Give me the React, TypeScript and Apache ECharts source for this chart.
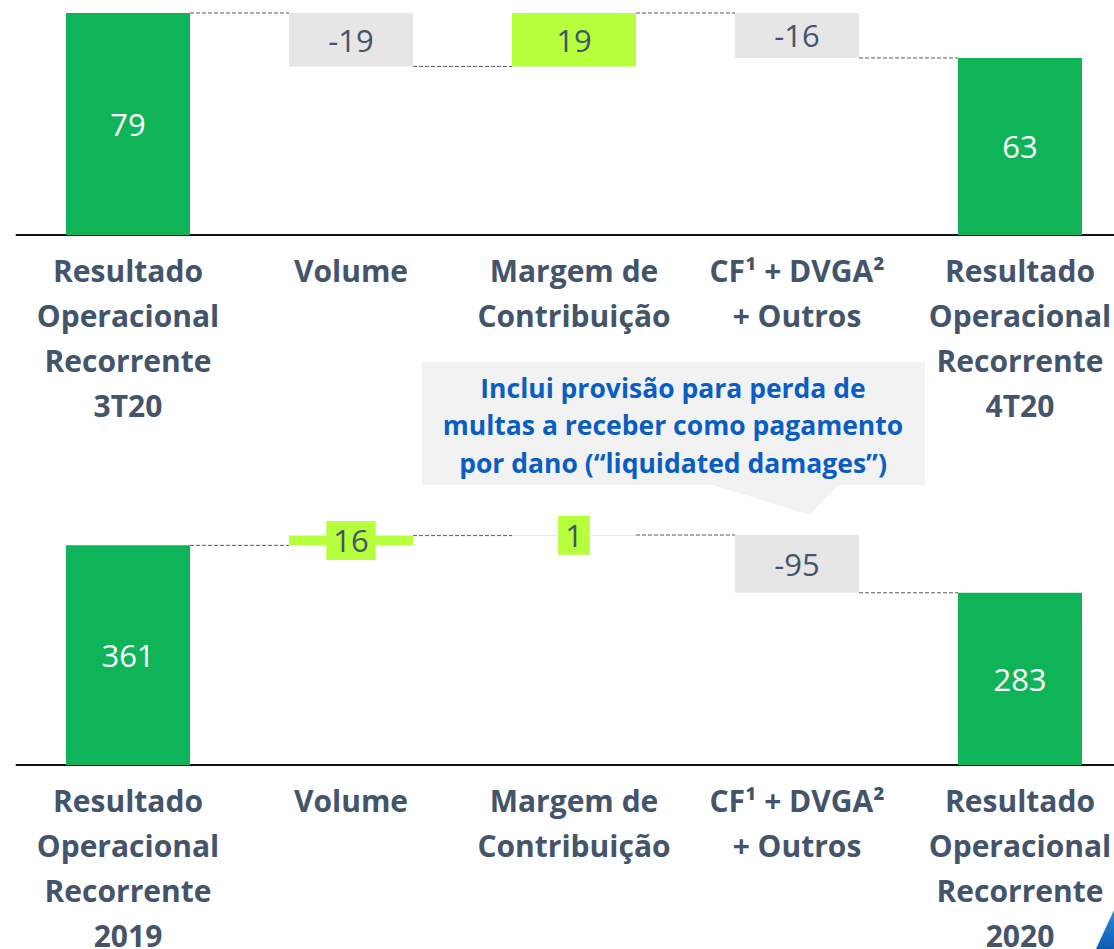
import React, { useEffect, useRef } from 'react';
import * as echarts from 'echarts';

const categoriesTop = [
  'Resultado\nOperacional\nRecorrente\n3T20',
  'Volume',
  'Margem de\nContribuição',
  'CF¹ + DVGA²\n+ Outros',
  'Resultado\nOperacional\nRecorrente\n4T20',
];
const categoriesBottom = [
  'Resultado\nOperacional\nRecorrente\n2019',
  'Volume',
  'Margem de\nContribuição',
  'CF¹ + DVGA²\n+ Outros',
  'Resultado\nOperacional\nRecorrente\n2020',
];
const valuesTop = [79, -19, 19, -16, 63];
const valuesBottom = [361, 16, 1, -95, 283];
const kinds = ['total', 'delta', 'delta', 'delta', 'total'];
const calloutText = 'Inclui provisão para perda de\nmultas a receber como pagamento\npor dano (“liquidated damages”)';

const GREEN = '#0FB458';
const LIME = '#B5FF3C';
const GREY = '#E6E6E6';
const TEXT = '#44546A';
const FONT = '"Open Sans", Lato, sans-serif';
const BAR_W = 124;

function waterfall(values: number[]) {
  const base: number[] = [];
  const height: number[] = [];
  const levels: number[] = [];
  let level = 0;
  values.forEach((v, i) => {
    if (kinds[i] === 'total') {
      base.push(0);
      height.push(v);
      level = v;
    } else if (v >= 0) {
      base.push(level);
      height.push(v);
      level += v;
    } else {
      base.push(level + v);
      height.push(-v);
      level += v;
    }
    levels.push(level);
  });
  return { base, height, levels };
}

function buildSeries(values: number[], idx: number) {
  const wf = waterfall(values);
  const stack = 'wf' + idx;
  const visible = values.map((v, i) => {
    const isTotal = kinds[i] === 'total';
    const color = isTotal ? GREEN : v >= 0 ? LIME : GREY;
    return {
      value: wf.height[i],
      itemStyle: { color },
      label: {
        show: true,
        position: 'inside',
        formatter: String(v),
        color: isTotal ? '#FFFFFF' : TEXT,
        fontSize: 31,
        fontFamily: FONT,
        backgroundColor: !isTotal && v >= 0 ? LIME : 'transparent',
        padding: !isTotal && v >= 0 ? [4, 7] : 0,
      },
    };
  });
  const connectors = wf.levels.slice(0, -1).map((l, i) => [i, l]);
  return {
    max: Math.max(...wf.levels),
    series: [
      {
        type: 'bar',
        xAxisIndex: idx,
        yAxisIndex: idx,
        stack,
        barWidth: BAR_W,
        data: wf.base,
        itemStyle: { color: 'transparent' },
        silent: true,
      },
      {
        type: 'bar',
        xAxisIndex: idx,
        yAxisIndex: idx,
        stack,
        barWidth: BAR_W,
        barMinHeight: 1,
        data: visible,
      },
      {
        type: 'custom',
        xAxisIndex: idx,
        yAxisIndex: idx,
        data: connectors,
        encode: { x: 0, y: 1 },
        z: 5,
        renderItem: (params: any, api: any) => {
          const i = api.value(0);
          const lvl = api.value(1);
          const p1 = api.coord([i, lvl]);
          const p2 = api.coord([i + 1, lvl]);
          return {
            type: 'line',
            shape: { x1: p1[0] + BAR_W / 2, y1: p1[1], x2: p2[0] - BAR_W / 2, y2: p2[1] },
            style: { stroke: '#595959', lineWidth: 1, lineDash: [4, 2] },
          };
        },
      },
    ],
  };
}

function xAxis(data: string[], idx: number) {
  return {
    type: 'category',
    gridIndex: idx,
    data,
    axisTick: { show: false },
    axisLine: { lineStyle: { color: '#111111', width: 2 } },
    axisLabel: {
      interval: 0,
      margin: 13,
      color: TEXT,
      fontFamily: FONT,
      fontWeight: 'bold',
      fontSize: 30,
      lineHeight: 45,
    },
  };
}

export default function App() {
  const ref = useRef<HTMLDivElement>(null);
  useEffect(() => {
    if (!ref.current) return;
    const chart = echarts.init(ref.current, undefined, { renderer: 'svg' });
    const top = buildSeries(valuesTop, 0);
    const bottom = buildSeries(valuesBottom, 1);
    chart.setOption({
      animation: false,
      grid: [
        { left: 16.5, top: 13, width: 1115, height: 222, outerBoundsMode: 'none', containLabel: false },
        { left: 16.5, top: 535, width: 1115, height: 230, outerBoundsMode: 'none', containLabel: false },
      ],
      xAxis: [xAxis(categoriesTop, 0), xAxis(categoriesBottom, 1)],
      yAxis: [
        { type: 'value', gridIndex: 0, min: 0, max: top.max, show: false, splitLine: { show: false } },
        { type: 'value', gridIndex: 1, min: 0, max: bottom.max, show: false, splitLine: { show: false } },
      ],
      series: [...top.series, ...bottom.series],
      graphic: [
        {
          type: 'polygon',
          z: 10,
          shape: {
            points: [
              [422, 362], [925, 362], [925, 485], [838, 485], [810, 515], [713, 485], [422, 485],
            ],
          },
          style: { fill: '#F2F2F2' },
        },
        {
          type: 'text',
          z: 11,
          x: 673,
          y: 425,
          style: {
            text: calloutText,
            fill: '#0A5DC2',
            fontSize: 26.5,
            fontWeight: 'bold',
            fontFamily: FONT,
            align: 'center',
            verticalAlign: 'middle',
            lineHeight: 37.5,
          },
        },
        {
          type: 'polygon',
          z: 10,
          shape: { points: [[1096, 949], [1114, 910], [1114, 949]] },
          style: {
            fill: new echarts.graphic.LinearGradient(0, 0, 0, 1, [
              { offset: 0, color: '#2A8BE0' },
              { offset: 1, color: '#0B5CB0' },
            ]),
          },
        },
      ],
    });
    return () => chart.dispose();
  }, []);
  return (
    <div style={{ position: 'absolute', left: 0, top: 0, width: 1114, height: 949, overflow: 'hidden', background: '#FFFFFF' }}>
      <div ref={ref} style={{ position: 'absolute', left: 0, top: 0, width: 1140, height: 949 }} />
    </div>
  );
}
